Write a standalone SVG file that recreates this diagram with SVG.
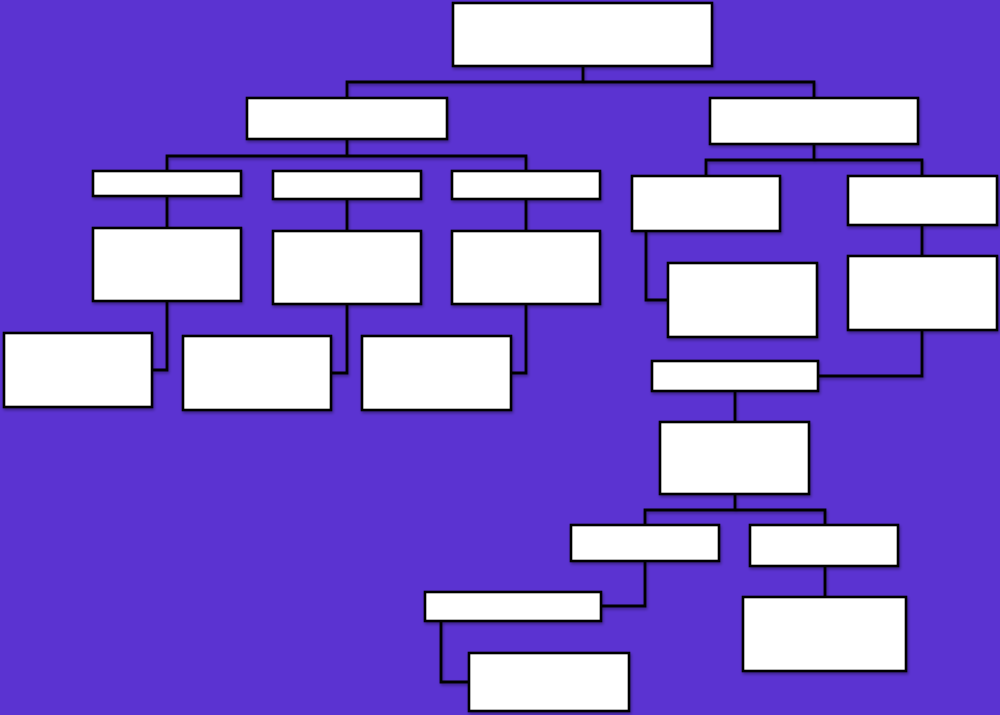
<svg xmlns="http://www.w3.org/2000/svg" width="1000" height="715" viewBox="0 0 1000 715">
<defs>
<style>
.n{fill:#ffffff;stroke:#000000;stroke-width:2.6}
.c{fill:none;stroke:#000000;stroke-width:2.8;stroke-linejoin:miter}
</style>
<filter id="sh" x="-10%" y="-10%" width="130%" height="140%">
<feDropShadow dx="1" dy="2" stdDeviation="1.5" flood-color="#000000" flood-opacity="0.35"/>
</filter>
</defs>
<rect x="0" y="0" width="1000" height="715" fill="#5B33D1"/>
<g id="connectors" filter="url(#sh)">
<path class="c" d="M583,66 V82 M347,98 V82 H814 V98"/>
<path class="c" d="M347,139 V156 M167,171 V156 H526 V171"/>
<path class="c" d="M167,196 V228 M347,199 V231 M526,199 V231"/>
<path class="c" d="M167,301 V370 H152 M347,304 V373 H331 M526,304 V373 H511"/>
<path class="c" d="M814,144 V160 M706,176 V160 H922 V176"/>
<path class="c" d="M646,231 V300 H668 M922,225 V256"/>
<path class="c" d="M922,330 V376 H818"/>
<path class="c" d="M735,391 V422"/>
<path class="c" d="M735,494 V510 M645,525 V510 H825 V525"/>
<path class="c" d="M645,561 V606 H601 M441,621 V682 H469 M825,566 V597"/>
</g>
<g id="root" filter="url(#sh)"><rect class="n" x="453" y="3" width="259" height="63"/></g>
<g id="l1-left" filter="url(#sh)"><rect class="n" x="247" y="98" width="200" height="41"/></g>
<g id="l1-right" filter="url(#sh)"><rect class="n" x="710" y="98" width="208" height="46"/></g>
<g id="a" filter="url(#sh)"><rect class="n" x="93" y="171" width="148" height="25"/></g>
<g id="b" filter="url(#sh)"><rect class="n" x="273" y="171" width="148" height="28"/></g>
<g id="c" filter="url(#sh)"><rect class="n" x="452" y="171" width="148" height="28"/></g>
<g id="a1" filter="url(#sh)"><rect class="n" x="93" y="228" width="148" height="73"/></g>
<g id="b1" filter="url(#sh)"><rect class="n" x="273" y="231" width="148" height="73"/></g>
<g id="c1" filter="url(#sh)"><rect class="n" x="452" y="231" width="148" height="73"/></g>
<g id="a2" filter="url(#sh)"><rect class="n" x="4" y="333" width="148" height="74"/></g>
<g id="b2" filter="url(#sh)"><rect class="n" x="183" y="336" width="148" height="74"/></g>
<g id="c2" filter="url(#sh)"><rect class="n" x="362" y="336" width="149" height="74"/></g>
<g id="g" filter="url(#sh)"><rect class="n" x="632" y="176" width="148" height="55"/></g>
<g id="h" filter="url(#sh)"><rect class="n" x="848" y="176" width="149" height="49"/></g>
<g id="g1" filter="url(#sh)"><rect class="n" x="668" y="263" width="149" height="74"/></g>
<g id="h1" filter="url(#sh)"><rect class="n" x="848" y="256" width="149" height="74"/></g>
<g id="i" filter="url(#sh)"><rect class="n" x="652" y="361" width="166" height="30"/></g>
<g id="j" filter="url(#sh)"><rect class="n" x="660" y="422" width="149" height="72"/></g>
<g id="k" filter="url(#sh)"><rect class="n" x="571" y="525" width="148" height="36"/></g>
<g id="l" filter="url(#sh)"><rect class="n" x="750" y="525" width="148" height="41"/></g>
<g id="m" filter="url(#sh)"><rect class="n" x="425" y="592" width="176" height="29"/></g>
<g id="nn" filter="url(#sh)"><rect class="n" x="469" y="653" width="160" height="58"/></g>
<g id="o" filter="url(#sh)"><rect class="n" x="743" y="597" width="163" height="74"/></g>
</svg>
